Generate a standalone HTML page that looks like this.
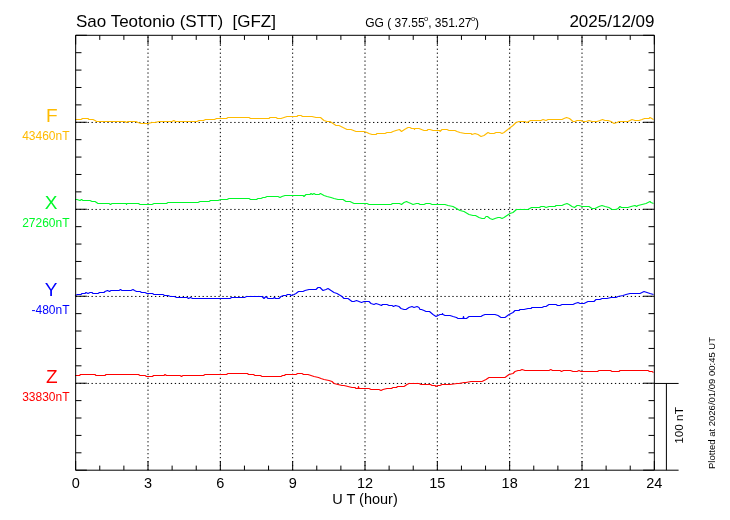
<!DOCTYPE html>
<html><head><meta charset="utf-8"><title>Sao Teotonio (STT) magnetogram 2025/12/09</title>
<style>html,body{margin:0;padding:0;background:#fff;} svg{display:block;} text{font-family:"Liberation Sans",Arial,sans-serif;}</style>
</head><body>
<svg width="730" height="520" viewBox="0 0 730 520" fill="#000">
<rect width="730" height="520" fill="#fff"/>
<line x1="148" y1="470.2" x2="148" y2="35.3" stroke="#000" stroke-width="1" stroke-dasharray="1.3 2.665"/>
<line x1="220.34" y1="470.2" x2="220.34" y2="35.3" stroke="#000" stroke-width="1" stroke-dasharray="1.3 2.665"/>
<line x1="292.67" y1="470.2" x2="292.67" y2="35.3" stroke="#000" stroke-width="1" stroke-dasharray="1.3 2.665"/>
<line x1="365" y1="470.2" x2="365" y2="35.3" stroke="#000" stroke-width="1" stroke-dasharray="1.3 2.665"/>
<line x1="437.33" y1="470.2" x2="437.33" y2="35.3" stroke="#000" stroke-width="1" stroke-dasharray="1.3 2.665"/>
<line x1="509.67" y1="470.2" x2="509.67" y2="35.3" stroke="#000" stroke-width="1" stroke-dasharray="1.3 2.665"/>
<line x1="582" y1="470.2" x2="582" y2="35.3" stroke="#000" stroke-width="1" stroke-dasharray="1.3 2.665"/>
<line x1="75.67" y1="122.45" x2="654.33" y2="122.45" stroke="#000" stroke-width="1" stroke-dasharray="1.3 2.665"/>
<line x1="75.67" y1="209.45" x2="654.33" y2="209.45" stroke="#000" stroke-width="1" stroke-dasharray="1.3 2.665"/>
<line x1="75.67" y1="296.45" x2="654.33" y2="296.45" stroke="#000" stroke-width="1" stroke-dasharray="1.3 2.665"/>
<line x1="75.67" y1="383.45" x2="654.33" y2="383.45" stroke="#000" stroke-width="1" stroke-dasharray="1.3 2.665"/>
<path d="M75.0,119.5 L81.0,119.5 L82.5,118.5 L84.0,118.5 L85.0,118.5 L88.0,118.5 L89.0,119.5 L93.0,119.5 L95.0,120.5 L96.5,121.5 L101.0,121.5 L105.0,121.5 L115.0,121.5 L125.0,121.5 L126.5,122.5 L128.0,121.5 L136.0,121.5 L138.0,122.5 L141.0,123.5 L148.0,123.5 L152.0,122.5 L155.0,122.5 L159.0,121.5 L172.0,121.5 L173.8,120.5 L175.5,121.5 L183.0,121.5 L197.0,121.5 L199.0,120.5 L203.5,120.5 L205.5,119.5 L214.5,119.5 L216.5,118.5 L221.0,118.5 L226.5,118.5 L228.0,117.5 L249.0,117.5 L250.5,118.5 L269.0,118.5 L270.0,117.5 L276.0,117.5 L277.5,118.5 L281.0,118.5 L284.0,117.5 L287.0,116.5 L294.0,116.5 L297.0,116.5 L298.0,115.5 L301.0,115.5 L302.5,116.5 L312.0,116.5 L316.0,117.5 L320.5,117.5 L324.0,120.5 L327.0,121.5 L330.0,121.5 L336.0,125.5 L339.0,125.5 L347.0,129.5 L351.0,129.5 L356.0,131.5 L364.0,131.5 L367.0,132.5 L369.0,133.5 L372.0,134.5 L376.0,134.5 L377.0,133.5 L385.0,133.5 L387.0,132.5 L391.0,132.5 L393.0,131.5 L396.0,130.5 L399.5,129.5 L401.5,131.5 L404.5,129.5 L408.0,127.5 L410.0,127.5 L411.5,128.5 L414.0,128.5 L414.5,129.5 L415.0,128.5 L419.0,128.5 L421.5,129.5 L424.0,130.5 L427.0,130.5 L428.0,129.5 L430.0,129.5 L433.0,130.5 L440.0,130.5 L440.0,131.5 L442.0,129.5 L447.0,129.5 L449.0,130.5 L455.0,130.5 L457.0,131.5 L460.0,132.5 L465.0,133.5 L471.0,133.5 L472.0,134.5 L475.0,133.5 L478.0,134.5 L481.0,136.5 L484.0,135.5 L488.0,132.5 L490.0,133.5 L494.0,133.5 L496.0,132.5 L500.0,132.5 L502.0,133.5 L504.0,132.5 L509.0,128.5 L513.0,125.5 L516.0,122.5 L519.0,121.5 L525.0,121.5 L527.0,122.5 L530.5,120.5 L541.0,120.5 L543.0,119.5 L546.0,120.5 L548.0,119.5 L562.0,119.5 L564.0,118.5 L566.5,117.5 L569.5,118.5 L573.0,121.5 L575.0,121.5 L577.0,120.5 L581.0,120.5 L583.0,121.5 L586.0,121.5 L589.0,120.5 L592.0,121.5 L597.0,121.5 L600.0,120.5 L602.5,119.5 L605.0,120.5 L608.0,120.5 L611.0,121.5 L614.0,123.5 L617.0,122.5 L619.0,121.5 L628.0,121.5 L632.0,119.5 L635.0,120.5 L639.0,120.5 L642.0,119.5 L644.5,118.5 L649.0,118.5 L650.0,117.5 L653.5,119.5" fill="none" stroke="#ffbb00" stroke-width="1.1" stroke-linejoin="round"/>
<path d="M75.0,199.5 L77.0,199.5 L80.0,200.5 L81.5,199.5 L83.0,200.5 L90.0,200.5 L92.0,201.5 L95.0,201.5 L98.0,203.5 L109.0,203.5 L110.5,204.5 L112.0,203.5 L115.0,203.5 L116.5,203.5 L126.0,203.5 L126.5,204.5 L127.0,203.5 L138.5,203.5 L140.0,204.5 L148.0,204.5 L152.0,204.5 L154.0,203.5 L157.5,203.5 L158.5,203.5 L166.5,203.5 L168.0,202.5 L198.0,202.5 L200.0,201.5 L209.0,201.5 L210.5,200.5 L218.0,200.5 L221.0,199.5 L227.0,199.5 L229.0,198.5 L249.0,198.5 L250.5,199.5 L256.5,199.5 L258.0,198.5 L261.0,198.5 L263.0,197.5 L265.0,197.5 L267.0,196.5 L270.0,196.5 L272.0,196.5 L276.0,196.5 L278.0,196.5 L280.0,197.5 L282.0,196.5 L285.0,195.5 L287.0,195.5 L294.0,195.5 L303.0,195.5 L304.0,196.5 L306.0,194.5 L310.0,194.5 L311.0,193.5 L312.5,194.5 L314.0,193.5 L315.5,194.5 L319.0,194.5 L320.5,193.5 L324.0,195.5 L327.0,196.5 L331.0,197.5 L334.0,198.5 L338.0,199.5 L343.0,199.5 L346.0,201.5 L350.0,201.5 L354.0,203.5 L362.0,203.5 L367.0,203.5 L369.0,204.5 L391.0,204.5 L392.5,203.5 L398.0,203.5 L399.5,203.5 L401.5,204.5 L404.0,202.5 L406.5,201.5 L408.5,202.5 L411.0,203.5 L413.0,204.5 L416.5,203.5 L418.5,203.5 L420.0,204.5 L421.0,204.5 L424.0,204.5 L426.0,203.5 L430.0,203.5 L432.0,204.5 L440.0,204.5 L442.0,204.5 L445.0,204.5 L448.0,205.5 L453.0,206.5 L456.5,208.5 L460.0,210.5 L464.0,211.5 L469.0,214.5 L473.0,215.5 L475.5,215.5 L479.0,217.5 L482.0,218.5 L484.5,218.5 L486.0,216.5 L487.5,216.5 L490.0,218.5 L492.5,219.5 L495.0,218.5 L498.0,217.5 L500.0,217.5 L502.0,218.5 L504.0,217.5 L507.0,215.5 L510.0,213.5 L513.0,212.5 L516.5,209.5 L528.0,209.5 L531.5,207.5 L539.5,207.5 L541.0,206.5 L544.0,206.5 L546.0,207.5 L549.0,206.5 L555.0,206.5 L556.0,205.5 L562.0,205.5 L564.0,204.5 L567.0,203.5 L569.0,204.5 L572.0,206.5 L574.5,207.5 L577.0,205.5 L579.0,205.5 L582.0,206.5 L589.0,206.5 L592.0,208.5 L595.0,208.5 L599.0,206.5 L602.0,205.5 L605.0,206.5 L609.0,207.5 L612.0,209.5 L616.0,209.5 L618.0,208.5 L620.0,206.5 L621.5,207.5 L628.0,207.5 L631.0,206.5 L635.0,205.5 L636.5,206.5 L638.0,205.5 L642.0,204.5 L646.0,203.5 L650.0,201.5 L651.0,202.5 L653.5,203.5" fill="none" stroke="#00f828" stroke-width="1.1" stroke-linejoin="round"/>
<path d="M75.0,295.5 L77.5,294.5 L81.0,294.5 L82.0,293.5 L85.0,293.5 L86.0,292.5 L88.0,293.5 L90.0,292.5 L92.0,292.5 L93.0,293.5 L98.0,293.5 L99.5,292.5 L104.0,292.5 L105.0,291.5 L107.5,290.5 L109.5,291.5 L111.0,290.5 L119.0,290.5 L120.5,289.5 L122.0,290.5 L131.0,290.5 L133.0,289.5 L134.5,290.5 L136.5,291.5 L140.0,291.5 L141.5,292.5 L145.0,292.5 L147.0,293.5 L152.5,293.5 L154.0,294.5 L163.0,294.5 L164.5,295.5 L168.0,295.5 L170.5,296.5 L174.5,296.5 L176.5,297.5 L187.0,297.5 L188.5,298.5 L190.5,297.5 L192.5,298.5 L194.0,298.5 L203.0,298.5 L205.0,298.5 L211.5,298.5 L213.5,298.5 L216.0,298.5 L218.0,298.5 L221.0,298.5 L223.0,298.5 L230.0,298.5 L231.5,297.5 L244.5,297.5 L246.5,296.5 L262.0,296.5 L264.0,298.5 L266.0,296.5 L268.0,298.5 L273.0,298.5 L274.5,297.5 L275.5,298.5 L279.0,298.5 L281.0,296.5 L283.5,295.5 L286.0,295.5 L287.5,294.5 L290.0,294.5 L291.0,295.5 L294.0,294.5 L296.0,293.5 L298.5,291.5 L303.0,291.5 L305.0,290.5 L309.0,289.5 L312.5,289.5 L316.0,289.5 L318.0,287.5 L320.0,287.5 L323.0,290.5 L326.0,289.5 L328.0,288.5 L331.0,290.5 L334.0,292.5 L337.0,293.5 L342.0,296.5 L344.0,298.5 L348.0,298.5 L352.0,301.5 L354.0,301.5 L356.5,300.5 L359.0,301.5 L361.5,302.5 L364.0,301.5 L367.0,301.5 L369.0,301.5 L371.0,303.5 L374.0,304.5 L376.0,303.5 L379.0,304.5 L381.5,305.5 L382.5,304.5 L387.0,304.5 L389.0,305.5 L392.0,305.5 L393.5,306.5 L395.5,305.5 L399.0,306.5 L401.0,308.5 L404.0,309.5 L406.0,309.5 L409.0,307.5 L412.0,306.5 L414.0,307.5 L417.0,306.5 L419.0,307.5 L420.0,309.5 L421.5,309.5 L424.0,310.5 L426.0,311.5 L429.5,311.5 L433.0,314.5 L436.0,316.5 L440.0,314.5 L442.0,314.5 L442.5,313.5 L443.0,314.5 L445.0,315.5 L450.0,315.5 L453.0,316.5 L456.5,317.5 L458.0,318.5 L463.0,318.5 L463.5,316.5 L464.0,318.5 L466.5,318.5 L469.0,316.5 L481.0,316.5 L482.5,315.5 L485.0,314.5 L487.0,314.5 L495.0,314.5 L498.0,315.5 L501.0,317.5 L505.0,317.5 L509.0,314.5 L513.0,312.5 L515.0,310.5 L519.0,310.5 L520.0,309.5 L524.0,309.5 L528.0,308.5 L531.0,308.5 L532.0,307.5 L542.0,307.5 L544.0,306.5 L546.0,306.5 L549.0,304.5 L556.0,304.5 L557.5,305.5 L560.0,305.5 L562.0,304.5 L573.0,304.5 L575.0,303.5 L578.0,302.5 L580.0,303.5 L583.0,303.5 L584.0,303.5 L588.0,301.5 L594.0,301.5 L596.0,299.5 L600.0,299.5 L602.0,298.5 L607.0,298.5 L611.0,297.5 L616.0,297.5 L618.0,296.5 L623.0,295.5 L626.0,294.5 L630.0,293.5 L640.0,293.5 L642.0,292.5 L644.0,291.5 L647.0,292.5 L650.0,293.5 L653.5,294.5" fill="none" stroke="#0000ff" stroke-width="1.1" stroke-linejoin="round"/>
<path d="M75.0,375.5 L79.5,375.5 L80.5,374.5 L95.0,374.5 L96.0,375.5 L105.0,375.5 L106.0,374.5 L138.5,374.5 L140.0,375.5 L145.0,375.5 L146.5,376.5 L148.0,376.5 L152.5,376.5 L153.5,375.5 L164.0,375.5 L165.0,374.5 L166.5,375.5 L180.0,375.5 L181.5,376.5 L183.0,375.5 L203.5,375.5 L205.0,374.5 L221.0,374.5 L226.5,374.5 L228.0,373.5 L247.5,373.5 L248.5,374.5 L253.5,374.5 L255.0,375.5 L260.5,375.5 L262.0,376.5 L281.0,376.5 L282.5,375.5 L284.5,375.5 L285.5,374.5 L294.0,374.5 L296.0,374.5 L297.5,373.5 L302.0,373.5 L303.5,374.5 L308.0,374.5 L311.0,375.5 L314.0,376.5 L318.5,377.5 L321.0,378.5 L324.0,379.5 L329.0,380.5 L332.0,381.5 L334.0,383.5 L338.0,384.5 L342.0,385.5 L344.0,385.5 L348.0,386.5 L352.0,387.5 L355.0,387.5 L356.0,388.5 L358.0,388.5 L358.5,386.5 L359.0,388.5 L367.0,388.5 L369.0,388.5 L371.0,389.5 L378.0,389.5 L379.0,389.5 L381.0,390.5 L383.0,389.5 L387.0,388.5 L391.5,388.5 L393.0,387.5 L396.5,387.5 L397.5,386.5 L404.0,386.5 L407.0,384.5 L409.0,383.5 L419.0,383.5 L421.0,384.5 L430.5,384.5 L432.0,385.5 L435.0,385.5 L436.0,386.5 L438.0,385.5 L440.0,385.5 L442.0,384.5 L449.0,384.5 L450.0,384.5 L457.0,383.5 L459.0,383.5 L464.0,382.5 L466.0,382.5 L471.0,381.5 L473.0,381.5 L482.0,381.5 L484.0,380.5 L486.0,379.5 L489.0,377.5 L498.0,377.5 L499.0,377.5 L500.0,377.5 L505.0,377.5 L509.0,374.5 L513.0,373.5 L515.0,371.5 L518.0,370.5 L520.0,370.5 L522.0,369.5 L525.0,370.5 L529.0,370.5 L530.5,370.5 L549.0,370.5 L550.8,369.5 L552.5,370.5 L560.0,370.5 L561.5,371.5 L563.5,370.5 L569.0,370.5 L570.5,370.5 L573.0,371.5 L577.0,371.5 L579.0,370.5 L581.0,371.5 L586.0,371.5 L597.5,371.5 L599.0,370.5 L610.5,370.5 L612.0,371.5 L619.0,371.5 L620.0,370.5 L648.0,370.5 L649.5,371.5 L652.0,371.5 L653.5,372.5" fill="none" stroke="#ff0000" stroke-width="1.1" stroke-linejoin="round"/>
<path d="M75.67,35.3 H654.33 V470.2 H75.67 Z" fill="none" stroke="#000" stroke-width="1"/>
<line x1="75.67" y1="470.2" x2="75.67" y2="461" stroke="#000" stroke-width="1"/>
<line x1="75.67" y1="35.3" x2="75.67" y2="44.5" stroke="#000" stroke-width="1"/>
<line x1="99.78" y1="470.2" x2="99.78" y2="465.6" stroke="#000" stroke-width="1"/>
<line x1="99.78" y1="35.3" x2="99.78" y2="39.9" stroke="#000" stroke-width="1"/>
<line x1="123.89" y1="470.2" x2="123.89" y2="465.6" stroke="#000" stroke-width="1"/>
<line x1="123.89" y1="35.3" x2="123.89" y2="39.9" stroke="#000" stroke-width="1"/>
<line x1="148" y1="470.2" x2="148" y2="461" stroke="#000" stroke-width="1"/>
<line x1="148" y1="35.3" x2="148" y2="44.5" stroke="#000" stroke-width="1"/>
<line x1="172.11" y1="470.2" x2="172.11" y2="465.6" stroke="#000" stroke-width="1"/>
<line x1="172.11" y1="35.3" x2="172.11" y2="39.9" stroke="#000" stroke-width="1"/>
<line x1="196.22" y1="470.2" x2="196.22" y2="465.6" stroke="#000" stroke-width="1"/>
<line x1="196.22" y1="35.3" x2="196.22" y2="39.9" stroke="#000" stroke-width="1"/>
<line x1="220.34" y1="470.2" x2="220.34" y2="461" stroke="#000" stroke-width="1"/>
<line x1="220.34" y1="35.3" x2="220.34" y2="44.5" stroke="#000" stroke-width="1"/>
<line x1="244.45" y1="470.2" x2="244.45" y2="465.6" stroke="#000" stroke-width="1"/>
<line x1="244.45" y1="35.3" x2="244.45" y2="39.9" stroke="#000" stroke-width="1"/>
<line x1="268.56" y1="470.2" x2="268.56" y2="465.6" stroke="#000" stroke-width="1"/>
<line x1="268.56" y1="35.3" x2="268.56" y2="39.9" stroke="#000" stroke-width="1"/>
<line x1="292.67" y1="470.2" x2="292.67" y2="461" stroke="#000" stroke-width="1"/>
<line x1="292.67" y1="35.3" x2="292.67" y2="44.5" stroke="#000" stroke-width="1"/>
<line x1="316.78" y1="470.2" x2="316.78" y2="465.6" stroke="#000" stroke-width="1"/>
<line x1="316.78" y1="35.3" x2="316.78" y2="39.9" stroke="#000" stroke-width="1"/>
<line x1="340.89" y1="470.2" x2="340.89" y2="465.6" stroke="#000" stroke-width="1"/>
<line x1="340.89" y1="35.3" x2="340.89" y2="39.9" stroke="#000" stroke-width="1"/>
<line x1="365" y1="470.2" x2="365" y2="461" stroke="#000" stroke-width="1"/>
<line x1="365" y1="35.3" x2="365" y2="44.5" stroke="#000" stroke-width="1"/>
<line x1="389.11" y1="470.2" x2="389.11" y2="465.6" stroke="#000" stroke-width="1"/>
<line x1="389.11" y1="35.3" x2="389.11" y2="39.9" stroke="#000" stroke-width="1"/>
<line x1="413.22" y1="470.2" x2="413.22" y2="465.6" stroke="#000" stroke-width="1"/>
<line x1="413.22" y1="35.3" x2="413.22" y2="39.9" stroke="#000" stroke-width="1"/>
<line x1="437.33" y1="470.2" x2="437.33" y2="461" stroke="#000" stroke-width="1"/>
<line x1="437.33" y1="35.3" x2="437.33" y2="44.5" stroke="#000" stroke-width="1"/>
<line x1="461.44" y1="470.2" x2="461.44" y2="465.6" stroke="#000" stroke-width="1"/>
<line x1="461.44" y1="35.3" x2="461.44" y2="39.9" stroke="#000" stroke-width="1"/>
<line x1="485.55" y1="470.2" x2="485.55" y2="465.6" stroke="#000" stroke-width="1"/>
<line x1="485.55" y1="35.3" x2="485.55" y2="39.9" stroke="#000" stroke-width="1"/>
<line x1="509.67" y1="470.2" x2="509.67" y2="461" stroke="#000" stroke-width="1"/>
<line x1="509.67" y1="35.3" x2="509.67" y2="44.5" stroke="#000" stroke-width="1"/>
<line x1="533.78" y1="470.2" x2="533.78" y2="465.6" stroke="#000" stroke-width="1"/>
<line x1="533.78" y1="35.3" x2="533.78" y2="39.9" stroke="#000" stroke-width="1"/>
<line x1="557.89" y1="470.2" x2="557.89" y2="465.6" stroke="#000" stroke-width="1"/>
<line x1="557.89" y1="35.3" x2="557.89" y2="39.9" stroke="#000" stroke-width="1"/>
<line x1="582" y1="470.2" x2="582" y2="461" stroke="#000" stroke-width="1"/>
<line x1="582" y1="35.3" x2="582" y2="44.5" stroke="#000" stroke-width="1"/>
<line x1="606.11" y1="470.2" x2="606.11" y2="465.6" stroke="#000" stroke-width="1"/>
<line x1="606.11" y1="35.3" x2="606.11" y2="39.9" stroke="#000" stroke-width="1"/>
<line x1="630.22" y1="470.2" x2="630.22" y2="465.6" stroke="#000" stroke-width="1"/>
<line x1="630.22" y1="35.3" x2="630.22" y2="39.9" stroke="#000" stroke-width="1"/>
<line x1="654.33" y1="470.2" x2="654.33" y2="461" stroke="#000" stroke-width="1"/>
<line x1="654.33" y1="35.3" x2="654.33" y2="44.5" stroke="#000" stroke-width="1"/>
<line x1="75.67" y1="35.3" x2="86.87" y2="35.3" stroke="#000" stroke-width="1"/>
<line x1="654.33" y1="35.3" x2="643.13" y2="35.3" stroke="#000" stroke-width="1"/>
<line x1="75.67" y1="52.7" x2="81.47" y2="52.7" stroke="#000" stroke-width="1"/>
<line x1="654.33" y1="52.7" x2="648.53" y2="52.7" stroke="#000" stroke-width="1"/>
<line x1="75.67" y1="70.09" x2="81.47" y2="70.09" stroke="#000" stroke-width="1"/>
<line x1="654.33" y1="70.09" x2="648.53" y2="70.09" stroke="#000" stroke-width="1"/>
<line x1="75.67" y1="87.49" x2="81.47" y2="87.49" stroke="#000" stroke-width="1"/>
<line x1="654.33" y1="87.49" x2="648.53" y2="87.49" stroke="#000" stroke-width="1"/>
<line x1="75.67" y1="104.88" x2="81.47" y2="104.88" stroke="#000" stroke-width="1"/>
<line x1="654.33" y1="104.88" x2="648.53" y2="104.88" stroke="#000" stroke-width="1"/>
<line x1="75.67" y1="122.28" x2="86.87" y2="122.28" stroke="#000" stroke-width="1"/>
<line x1="654.33" y1="122.28" x2="643.13" y2="122.28" stroke="#000" stroke-width="1"/>
<line x1="75.67" y1="139.68" x2="81.47" y2="139.68" stroke="#000" stroke-width="1"/>
<line x1="654.33" y1="139.68" x2="648.53" y2="139.68" stroke="#000" stroke-width="1"/>
<line x1="75.67" y1="157.07" x2="81.47" y2="157.07" stroke="#000" stroke-width="1"/>
<line x1="654.33" y1="157.07" x2="648.53" y2="157.07" stroke="#000" stroke-width="1"/>
<line x1="75.67" y1="174.47" x2="81.47" y2="174.47" stroke="#000" stroke-width="1"/>
<line x1="654.33" y1="174.47" x2="648.53" y2="174.47" stroke="#000" stroke-width="1"/>
<line x1="75.67" y1="191.86" x2="81.47" y2="191.86" stroke="#000" stroke-width="1"/>
<line x1="654.33" y1="191.86" x2="648.53" y2="191.86" stroke="#000" stroke-width="1"/>
<line x1="75.67" y1="209.26" x2="86.87" y2="209.26" stroke="#000" stroke-width="1"/>
<line x1="654.33" y1="209.26" x2="643.13" y2="209.26" stroke="#000" stroke-width="1"/>
<line x1="75.67" y1="226.66" x2="81.47" y2="226.66" stroke="#000" stroke-width="1"/>
<line x1="654.33" y1="226.66" x2="648.53" y2="226.66" stroke="#000" stroke-width="1"/>
<line x1="75.67" y1="244.05" x2="81.47" y2="244.05" stroke="#000" stroke-width="1"/>
<line x1="654.33" y1="244.05" x2="648.53" y2="244.05" stroke="#000" stroke-width="1"/>
<line x1="75.67" y1="261.45" x2="81.47" y2="261.45" stroke="#000" stroke-width="1"/>
<line x1="654.33" y1="261.45" x2="648.53" y2="261.45" stroke="#000" stroke-width="1"/>
<line x1="75.67" y1="278.84" x2="81.47" y2="278.84" stroke="#000" stroke-width="1"/>
<line x1="654.33" y1="278.84" x2="648.53" y2="278.84" stroke="#000" stroke-width="1"/>
<line x1="75.67" y1="296.24" x2="86.87" y2="296.24" stroke="#000" stroke-width="1"/>
<line x1="654.33" y1="296.24" x2="643.13" y2="296.24" stroke="#000" stroke-width="1"/>
<line x1="75.67" y1="313.64" x2="81.47" y2="313.64" stroke="#000" stroke-width="1"/>
<line x1="654.33" y1="313.64" x2="648.53" y2="313.64" stroke="#000" stroke-width="1"/>
<line x1="75.67" y1="331.03" x2="81.47" y2="331.03" stroke="#000" stroke-width="1"/>
<line x1="654.33" y1="331.03" x2="648.53" y2="331.03" stroke="#000" stroke-width="1"/>
<line x1="75.67" y1="348.43" x2="81.47" y2="348.43" stroke="#000" stroke-width="1"/>
<line x1="654.33" y1="348.43" x2="648.53" y2="348.43" stroke="#000" stroke-width="1"/>
<line x1="75.67" y1="365.82" x2="81.47" y2="365.82" stroke="#000" stroke-width="1"/>
<line x1="654.33" y1="365.82" x2="648.53" y2="365.82" stroke="#000" stroke-width="1"/>
<line x1="75.67" y1="383.22" x2="86.87" y2="383.22" stroke="#000" stroke-width="1"/>
<line x1="654.33" y1="383.22" x2="643.13" y2="383.22" stroke="#000" stroke-width="1"/>
<line x1="75.67" y1="400.62" x2="81.47" y2="400.62" stroke="#000" stroke-width="1"/>
<line x1="654.33" y1="400.62" x2="648.53" y2="400.62" stroke="#000" stroke-width="1"/>
<line x1="75.67" y1="418.01" x2="81.47" y2="418.01" stroke="#000" stroke-width="1"/>
<line x1="654.33" y1="418.01" x2="648.53" y2="418.01" stroke="#000" stroke-width="1"/>
<line x1="75.67" y1="435.41" x2="81.47" y2="435.41" stroke="#000" stroke-width="1"/>
<line x1="654.33" y1="435.41" x2="648.53" y2="435.41" stroke="#000" stroke-width="1"/>
<line x1="75.67" y1="452.8" x2="81.47" y2="452.8" stroke="#000" stroke-width="1"/>
<line x1="654.33" y1="452.8" x2="648.53" y2="452.8" stroke="#000" stroke-width="1"/>
<line x1="75.67" y1="470.2" x2="86.87" y2="470.2" stroke="#000" stroke-width="1"/>
<line x1="654.33" y1="470.2" x2="643.13" y2="470.2" stroke="#000" stroke-width="1"/>
<line x1="654.33" y1="383.45" x2="678.6" y2="383.45" stroke="#000" stroke-width="1"/>
<line x1="654.33" y1="470.2" x2="678.6" y2="470.2" stroke="#000" stroke-width="1"/>
<line x1="666.4" y1="383.45" x2="666.4" y2="470.2" stroke="#000" stroke-width="1"/>
<text transform="translate(683,425.5) rotate(-90)" text-anchor="middle" font-size="11.8">100 nT</text>
<text transform="translate(714.8,403) rotate(-90)" text-anchor="middle" font-size="9.5">Plotted at 2026/01/09 00:45 UT</text>
<text transform="translate(75.67,487.8) scale(1,1.07)" text-anchor="middle" font-size="14.5">0</text>
<text transform="translate(148,487.8) scale(1,1.07)" text-anchor="middle" font-size="14.5">3</text>
<text transform="translate(220.34,487.8) scale(1,1.07)" text-anchor="middle" font-size="14.5">6</text>
<text transform="translate(292.67,487.8) scale(1,1.07)" text-anchor="middle" font-size="14.5">9</text>
<text transform="translate(365,487.8) scale(1,1.07)" text-anchor="middle" font-size="14.5">12</text>
<text transform="translate(437.33,487.8) scale(1,1.07)" text-anchor="middle" font-size="14.5">15</text>
<text transform="translate(509.67,487.8) scale(1,1.07)" text-anchor="middle" font-size="14.5">18</text>
<text transform="translate(582,487.8) scale(1,1.07)" text-anchor="middle" font-size="14.5">21</text>
<text transform="translate(654.33,487.8) scale(1,1.07)" text-anchor="middle" font-size="14.5">24</text>
<text x="365" y="503.7" text-anchor="middle" font-size="14.5" style="white-space:pre">U T (hour)</text>
<text x="76" y="26.5" font-size="17" style="white-space:pre">Sao Teotonio (STT)  [GFZ]</text>
<text x="654.5" y="26.5" text-anchor="end" font-size="17">2025/12/09</text>
<text x="365.2" y="26.8" font-size="12" style="white-space:pre">GG ( 37.55<tspan font-size="7.5" dx="-0.6" dy="-5.6">o</tspan><tspan dy="5.6">, 351.27</tspan><tspan font-size="7.5" dx="-0.6" dy="-5.6">o</tspan><tspan dy="5.6">)</tspan></text>
<text x="57.5" y="122.45" text-anchor="end" font-size="19" fill="#ffbb00">F</text>
<text x="69.5" y="140.45" text-anchor="end" font-size="12" fill="#ffbb00">43460nT</text>
<text x="57.5" y="209.45" text-anchor="end" font-size="19" fill="#00f828">X</text>
<text x="69.5" y="227.45" text-anchor="end" font-size="12" fill="#00f828">27260nT</text>
<text x="57.5" y="296.45" text-anchor="end" font-size="19" fill="#0000ff">Y</text>
<text x="69.5" y="314.45" text-anchor="end" font-size="12" fill="#0000ff">-480nT</text>
<text x="57.5" y="383.45" text-anchor="end" font-size="19" fill="#ff0000">Z</text>
<text x="69.5" y="401.45" text-anchor="end" font-size="12" fill="#ff0000">33830nT</text>
</svg>
</body></html>
